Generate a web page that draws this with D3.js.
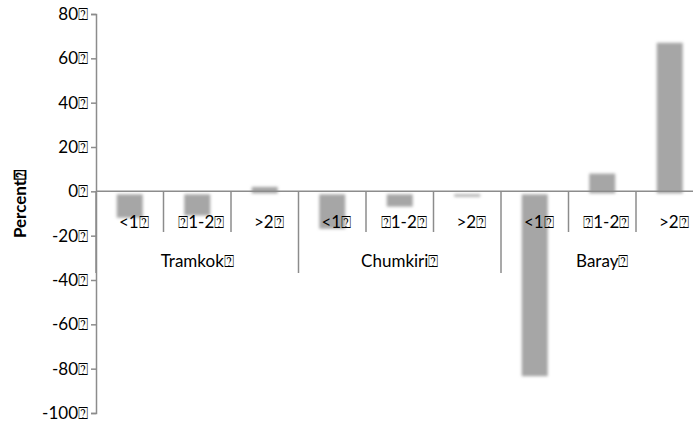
<!DOCTYPE html>
<html>
<head>
  <meta charset="utf-8">
  <style>
    body { margin: 0; background: #fff; }
    text { font-family: Lato, "Open Sans", sans-serif; font-size: 17px; fill: #000; }
  </style>
</head>
<body>
  <svg width="693" height="426"></svg>
  <script src="https://d3js.org/d3.v7.min.js"></script>
  <script>
  var Q = "\u2370";
  var groups = ["Tramkok", "Chumkiri", "Baray"];
  var sizes = ["<1", Q + "1-2", ">2"];
  var tramkok = [-11, -10, 2];
  var chumkiri = [-16, -6, -1.5];
  var baray = [-82.5, 8, 67];
  var yTicks = [80, 60, 40, 20, 0, -20, -40, -60, -80, -100];

  var rows = [];
  [tramkok, chumkiri, baray].forEach(function(vals, gi) {
    vals.forEach(function(v, si) {
      rows.push({ key: gi + "-" + si, group: groups[gi], size: sizes[si], value: v });
    });
  });

  var svg = d3.select("svg");
  var axisColor = "#8c8c8c";

  var y = d3.scaleLinear().domain([-100, 80]).range([413, 14]);
  var x = d3.scaleBand().domain(rows.map(function(d) { return d.key; })).range([96, 703.5]);
  var gx = d3.scaleBand().domain(groups).range([96, 703.5]);

  svg.append("defs").append("filter")
      .attr("id", "soft")
      .attr("x", "-20%").attr("y", "-20%").attr("width", "140%").attr("height", "140%")
    .append("feGaussianBlur").attr("stdDeviation", 1.6);

  // bars
  var bw = 26;
  svg.append("g")
      .attr("filter", "url(#soft)")
    .selectAll("rect")
    .data(rows)
    .enter()
    .append("rect")
      .attr("x", function(d) { return x(d.key) + x.bandwidth() / 2 - bw / 2; })
      .attr("y", function(d) { return d.value > 0 ? y(d.value) : y(0) + 3; })
      .attr("width", bw)
      .attr("height", function(d) { return d.value > 0 ? y(0) - y(d.value) + 2 : y(d.value) - y(0) - 1; })
      .attr("fill", "#a6a6a6");

  // y axis
  var yAxis = svg.append("g")
      .attr("transform", "translate(96,0)")
      .call(d3.axisLeft(y).tickValues(yTicks).tickSize(5).tickPadding(3)
        .tickFormat(function(d) { return d + Q; }));
  yAxis.select(".domain").attr("stroke", axisColor).attr("stroke-width", 1.5);
  yAxis.selectAll(".tick line").attr("stroke", axisColor).attr("stroke-width", 1.5);
  yAxis.selectAll(".tick text").style("font-size", "17px").style("font-family", "Lato, sans-serif").attr("fill", "#000");

  // zero line
  svg.append("line")
      .attr("x1", 96).attr("x2", 693)
      .attr("y1", y(0)).attr("y2", y(0))
      .attr("stroke", axisColor).attr("stroke-width", 1.5);

  // category ticks
  svg.append("g").selectAll("line")
    .data(rows)
    .enter()
    .append("line")
      .attr("x1", function(d) { return x(d.key); })
      .attr("x2", function(d) { return x(d.key); })
      .attr("y1", y(0))
      .attr("y2", function(d) { return d.key.slice(-1) === "0" ? 273 : 232; })
      .attr("stroke", axisColor).attr("stroke-width", 1.5);

  // sub labels
  svg.append("g").selectAll("text")
    .data(rows)
    .enter()
    .append("text")
      .attr("x", function(d) { return x(d.key) + x.bandwidth() / 2 + 4; })
      .attr("y", 228)
      .attr("text-anchor", "middle")
      .text(function(d) { return d.size + Q; });

  // group labels
  svg.append("g").selectAll("text")
    .data(groups)
    .enter()
    .append("text")
      .attr("x", function(d) { return gx(d) + gx.bandwidth() / 2; })
      .attr("y", 267)
      .attr("text-anchor", "middle")
      .text(function(d) { return d + Q; });

  // y label
  svg.append("text")
      .attr("transform", "translate(26," + 204 + ") rotate(-90)")
      .attr("text-anchor", "middle")
      .style("font-weight", "bold")
      .text("Percent" + Q);
  </script>
</body>
</html>
